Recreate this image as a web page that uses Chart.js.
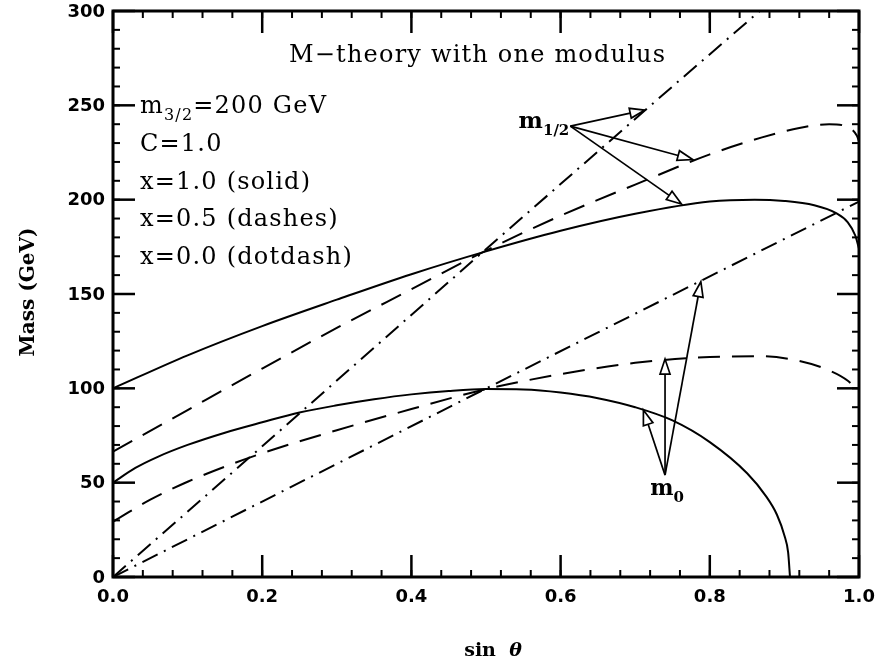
<!DOCTYPE html>
<html>
<head>
<meta charset="utf-8">
<script src="https://cdn.jsdelivr.net/npm/chart.js@4.4.1/dist/chart.umd.min.js"></script>
<style>
  html, body { margin: 0; padding: 0; background: #fff; }
  #wrap { width: 881px; height: 666px; }
</style>
</head>
<body>
<div id="wrap"><canvas id="massChart"></canvas></div>
<script>
// Values: sin(theta) and mass in GeV

// x = 1.0 (solid)
const m12SolidS = [0, 0.1, 0.2, 0.3, 0.4, 0.5, 0.6, 0.7, 0.8, 0.86, 0.9, 0.94, 0.97, 0.985, 0.995, 1.0];
const m12SolidM = [100, 117.5, 133, 147, 160.5, 172.6, 183.5, 192.5, 199, 200, 199.3, 197, 192.7, 188, 181, 174];
const m0SolidS = [0, 0.03, 0.06, 0.1, 0.15, 0.2, 0.25, 0.3, 0.35, 0.4, 0.45, 0.5, 0.55, 0.6, 0.65, 0.7, 0.75, 0.8, 0.85, 0.875, 0.89, 0.9, 0.905, 0.9075];
const m0SolidM = [50, 57.8, 63.7, 70, 76.5, 82, 87.2, 91, 94.2, 96.8, 98.6, 99.6, 99.4, 97.8, 94.8, 90, 83, 71.5, 55, 43, 33, 22, 13, 0];

// x = 0.5 (dashes)
const m12DashS = [0, 0.1, 0.2, 0.3, 0.4, 0.5, 0.6, 0.7, 0.8, 0.87, 0.92, 0.96, 0.985, 0.997, 1.0];
const m12DashM = [66.4, 88.5, 110.5, 132, 152.5, 173, 191.5, 208, 224, 233, 238, 240, 238.5, 234, 231];
const m0DashS = [0, 0.05, 0.1, 0.15, 0.2, 0.3, 0.4, 0.5, 0.6, 0.7, 0.8, 0.87, 0.92, 0.96, 0.985, 1.0];
const m0DashM = [29.3, 41, 50.5, 58.5, 65.6, 77.8, 89, 99.6, 107.5, 113.5, 116.6, 117, 114.5, 109.5, 104, 98];

// x = 0.0 (dotdash)
const m12DotS = [0, 0.2145, 0.496, 0.729, 0.867];
const m12DotM = [0, 74.3, 172.4, 252.8, 300];
const m0DotS = [0, 0.2145, 0.496, 1.0];
const m0DotM = [0, 42.9, 99.1, 199];

// axes
const xTicks = [0, 0.2, 0.4, 0.6, 0.8, 1.0];
const xTickLabels = ['0.0', '0.2', '0.4', '0.6', '0.8', '1.0'];
const yTicks = [0, 50, 100, 150, 200, 250, 300];
const yTickLabels = ['0', '50', '100', '150', '200', '250', '300'];

// arrows (sin theta, GeV)
const m12ArrowFrom = [0.613, 239];
const m12ArrowTo = [[0.713, 247.5], [0.777, 221.3], [0.762, 197.7]];
const m0ArrowFrom = [0.740, 54];
const m0ArrowTo = [[0.711, 88.5], [0.740, 115.5], [0.788, 156.5]];

const titleText = 'M\u2212theory with one modulus';
const infoLines = ['C=1.0', 'x=1.0 (solid)', 'x=0.5 (dashes)', 'x=0.0 (dotdash)'];

function pts(s, m) {
  return s.map((v, i) => ({ x: v, y: m[i] }));
}

function curve(s, m, dash, smooth) {
  return {
    data: pts(s, m),
    borderColor: '#000',
    borderWidth: 2,
    borderDash: dash,
    pointRadius: 0,
    fill: false,
    showLine: true,
    cubicInterpolationMode: smooth ? 'monotone' : 'default',
    tension: 0
  };
}

const serif = '"DejaVu Serif", serif';

// draw text made of [string, isSubscript] parts
function richText(ctx, parts, x, y, size, weight, align) {
  const fontFor = sub => `${weight} ${sub ? Math.round(size * 0.66) : size}px ${serif}`;
  let w = 0;
  parts.forEach(([t, sub]) => { ctx.font = fontFor(sub); w += ctx.measureText(t).width; });
  let cx = align === 'right' ? x - w : align === 'center' ? x - w / 2 : x;
  ctx.textAlign = 'left';
  parts.forEach(([t, sub]) => {
    ctx.font = fontFor(sub);
    ctx.fillText(t, cx, sub ? y + size * 0.3 : y);
    cx += ctx.measureText(t).width;
  });
}

function arrow(ctx, x0, y0, x1, y1) {
  const ang = Math.atan2(y1 - y0, x1 - x0);
  const L = 15, W = 5;
  const bx = x1 - L * Math.cos(ang), by = y1 - L * Math.sin(ang);
  ctx.beginPath();
  ctx.moveTo(x0, y0);
  ctx.lineTo(bx, by);
  ctx.stroke();
  ctx.beginPath();
  ctx.moveTo(x1, y1);
  ctx.lineTo(bx + W * Math.sin(ang), by - W * Math.cos(ang));
  ctx.lineTo(bx - W * Math.sin(ang), by + W * Math.cos(ang));
  ctx.closePath();
  ctx.stroke();
}

// frame, inward ticks, labels and annotations
const framePlugin = {
  id: 'framePlugin',
  afterDraw(chart) {
    const { ctx, chartArea: a, scales: { x, y } } = chart;
    ctx.save();
    ctx.strokeStyle = '#000';
    ctx.fillStyle = '#000';
    ctx.lineCap = 'butt';

    const seg = (x0, y0, x1, y1) => { ctx.beginPath(); ctx.moveTo(x0, y0); ctx.lineTo(x1, y1); ctx.stroke(); };

    // minor ticks
    ctx.lineWidth = 2;
    for (let v = 0.04; v < 1; v += 0.04) {
      const px = x.getPixelForValue(v);
      seg(px, a.bottom, px, a.bottom - 7);
      seg(px, a.top, px, a.top + 7);
    }
    for (let v = 10; v < 300; v += 10) {
      const py = y.getPixelForValue(v);
      seg(a.left, py, a.left + 7, py);
      seg(a.right, py, a.right - 7, py);
    }
    // major ticks
    ctx.lineWidth = 2.5;
    xTicks.forEach(v => {
      const px = x.getPixelForValue(v);
      seg(px, a.bottom, px, a.bottom - 22);
      seg(px, a.top, px, a.top + 22);
    });
    yTicks.forEach(v => {
      const py = y.getPixelForValue(v);
      seg(a.left, py, a.left + 22, py);
      seg(a.right, py, a.right - 22, py);
    });
    // frame
    ctx.lineWidth = 3;
    ctx.strokeRect(a.left, a.top, a.right - a.left, a.bottom - a.top);

    // tick labels
    ctx.font = 'bold 18px "DejaVu Sans", sans-serif';
    ctx.textAlign = 'right';
    ctx.textBaseline = 'middle';
    yTicks.forEach((v, i) => ctx.fillText(yTickLabels[i], a.left - 8, y.getPixelForValue(v) + 1));
    ctx.textAlign = 'center';
    ctx.textBaseline = 'top';
    xTicks.forEach((v, i) => ctx.fillText(xTickLabels[i], x.getPixelForValue(v), a.bottom + 11));

    // axis titles
    ctx.textBaseline = 'alphabetic';
    ctx.save();
    ctx.translate(34, (a.top + a.bottom) / 2 - 2);
    ctx.rotate(-Math.PI / 2);
    ctx.textAlign = 'center';
    ctx.font = `bold 20px ${serif}`;
    ctx.fillText('Mass (GeV)', 0, 0);
    ctx.restore();
    const cx = (a.left + a.right) / 2 + 7;
    ctx.textAlign = 'left';
    ctx.font = `bold 19px ${serif}`;
    const sinW = ctx.measureText('sin  ').width;
    ctx.font = `bold italic 19px ${serif}`;
    const thW = ctx.measureText('\u03b8').width;
    const sx = cx - (sinW + thW) / 2;
    ctx.font = `bold 19px ${serif}`;
    ctx.fillText('sin  ', sx, a.bottom + 79);
    ctx.font = `bold italic 19px ${serif}`;
    ctx.fillText('\u03b8', sx + sinW, a.bottom + 79);

    // title and info text
    ctx.letterSpacing = '1.2px';
    ctx.textAlign = 'left';
    ctx.font = `24px ${serif}`;
    ctx.fillText(titleText, a.left + 176, a.top + 51);
    richText(ctx, [['m', false], ['3/2', true], ['=200 GeV', false]], a.left + 27, a.top + 102, 24, 'normal', 'left');
    infoLines.forEach((t, i) => {
      ctx.font = `24px ${serif}`;
      ctx.fillText(t, a.left + 27, a.top + 140 + i * 37.6);
    });
    ctx.letterSpacing = '0px';

    // arrows
    ctx.lineWidth = 1.7;
    const fx = x.getPixelForValue(m12ArrowFrom[0]), fy = y.getPixelForValue(m12ArrowFrom[1]);
    m12ArrowTo.forEach(([s, m]) => arrow(ctx, fx, fy, x.getPixelForValue(s), y.getPixelForValue(m)));
    const gx = x.getPixelForValue(m0ArrowFrom[0]), gy = y.getPixelForValue(m0ArrowFrom[1]);
    m0ArrowTo.forEach(([s, m]) => arrow(ctx, gx, gy, x.getPixelForValue(s), y.getPixelForValue(m)));

    // arrow labels
    richText(ctx, [['m', false], ['1/2', true]], fx - 1, fy + 2, 23, 'bold', 'right');
    richText(ctx, [['m', false], ['0', true]], gx + 2, gy + 20, 22, 'bold', 'center');

    ctx.restore();
  }
};

const ctx = document.getElementById('massChart').getContext('2d');
const massChart = new Chart(ctx, {
  type: 'scatter',
  data: {
    datasets: [
      curve(m12SolidS, m12SolidM, [], true),
      curve(m0SolidS, m0SolidM, [], true),
      curve(m12DashS, m12DashM, [22, 12], true),
      curve(m0DashS, m0DashM, [22, 12], true),
      curve(m12DotS, m12DotM, [17, 7, 2, 7], false),
      curve(m0DotS, m0DotM, [17, 7, 2, 7], false)
    ]
  },
  options: {
    responsive: true,
    maintainAspectRatio: false,
    animation: false,
    devicePixelRatio: 1,
    layout: { padding: { left: 113, right: 22, top: 11, bottom: 89 } },
    plugins: {
      legend: { display: false },
      tooltip: { enabled: false }
    },
    scales: {
      x: { type: 'linear', min: 0, max: 1, display: false },
      y: { type: 'linear', min: 0, max: 300, display: false }
    }
  },
  plugins: [framePlugin]
});
</script>
</body>
</html>
